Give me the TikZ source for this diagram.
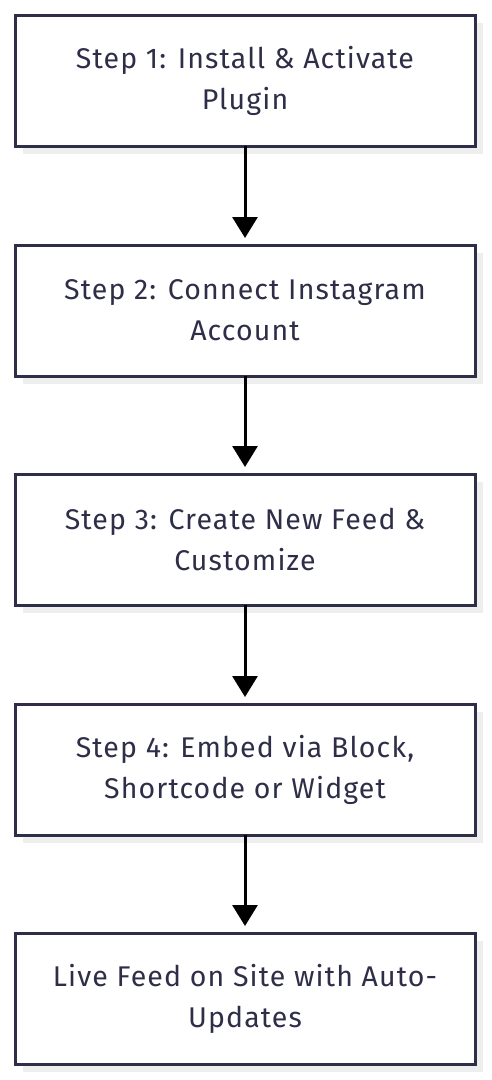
\documentclass[tikz,border=0pt]{standalone}
\usepackage{fontspec}
\setmainfont{Fira Sans}[LetterSpace=4]
\usetikzlibrary{arrows.meta}
\definecolor{boxline}{HTML}{2E2E48}
\definecolor{txt}{HTML}{2E2E48}
\definecolor{shade}{HTML}{EEEEEE}
\begin{document}
\begin{tikzpicture}[x=1pt,y=-1pt,
  stepbox/.style={draw=boxline,line width=3pt,fill=white,minimum width=460pt,minimum height=131pt,
    align=center,text=txt,font=\fontsize{28.5}{41}\selectfont,inner sep=0pt,outer sep=0pt},
  shadowbox/.style={fill=shade,draw=none,minimum width=460pt,minimum height=131pt,inner sep=0pt},
  flow/.style={line width=3pt,-{Triangle[width=25pt,length=21pt]},shorten >=7pt}]
\useasboundingbox (0,0) rectangle (491,1080);
\foreach \y in {80.5,310.5,539.5,769.5,998.5}{
  \node[shadowbox] at (253,\y+8) {};
}
\node[stepbox] (s1) at (245,80.5) {Step 1: Install \& Activate\\Plugin};
\node[stepbox] (s2) at (245,310.5) {Step 2: Connect Instagram\\Account};
\node[stepbox] (s3) at (245,539.5) {Step 3: Create New Feed \&\\Customize};
\node[stepbox] (s4) at (245,769.5) {Step 4: Embed via Block,\\Shortcode or Widget};
\node[stepbox] (s5) at (245,998.5) {Live Feed on Site with Auto-\\Updates};
\draw[flow] (s1.south) -- (s2.north);
\draw[flow] (s2.south) -- (s3.north);
\draw[flow] (s3.south) -- (s4.north);
\draw[flow] (s4.south) -- (s5.north);
\end{tikzpicture}
\end{document}
